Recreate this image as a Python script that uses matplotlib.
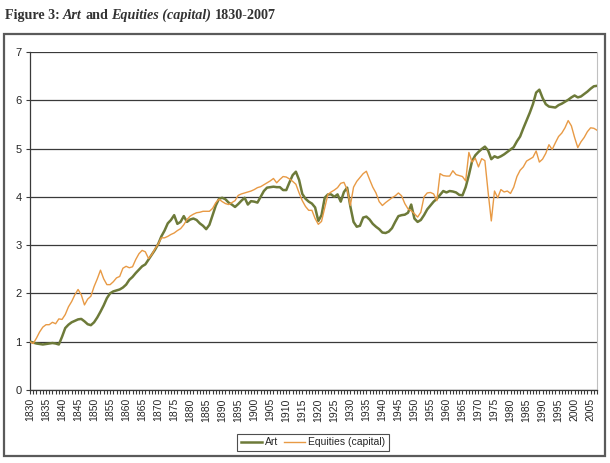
import matplotlib

matplotlib.use("Agg")
import matplotlib.pyplot as plt
import numpy as np
from matplotlib.patches import Rectangle
from matplotlib.ticker import FixedLocator, MultipleLocator

# Indexed values, 1830 = 1
years = list(range(1830, 2008))

art = [
    1.00, 0.98, 0.96, 0.95, 0.94, 0.95, 0.96, 0.97, 0.96, 0.94,  # 1830s
    1.10, 1.28, 1.35, 1.40, 1.43, 1.46, 1.47, 1.42, 1.36, 1.34,  # 1840s
    1.40, 1.50, 1.62, 1.75, 1.90, 2.00, 2.04, 2.06, 2.08, 2.12,  # 1850s
    2.18, 2.28, 2.34, 2.42, 2.49, 2.56, 2.60, 2.70, 2.80, 2.90,  # 1860s
    3.02, 3.18, 3.30, 3.45, 3.52, 3.62, 3.44, 3.48, 3.60, 3.48,  # 1870s
    3.53, 3.55, 3.52, 3.45, 3.40, 3.33, 3.42, 3.62, 3.82, 3.96,  # 1880s
    3.98, 3.95, 3.88, 3.84, 3.79, 3.85, 3.92, 3.98, 3.84, 3.91,  # 1890s
    3.90, 3.88, 4.00, 4.12, 4.19, 4.20, 4.21, 4.20, 4.20, 4.14,  # 1900s
    4.14, 4.30, 4.45, 4.52, 4.35, 4.06, 3.96, 3.90, 3.86, 3.78,  # 1910s
    3.50, 3.62, 3.98, 4.05, 4.05, 4.00, 4.05, 3.90, 4.10, 4.19,  # 1920s
    3.80, 3.48, 3.38, 3.40, 3.57, 3.59, 3.53, 3.44, 3.38, 3.33,  # 1930s
    3.26, 3.25, 3.28, 3.35, 3.48, 3.60, 3.62, 3.63, 3.67, 3.84,  # 1940s
    3.55, 3.48, 3.52, 3.62, 3.74, 3.82, 3.90, 3.96, 4.04, 4.12,  # 1950s
    4.09, 4.12, 4.11, 4.09, 4.04, 4.03, 4.20, 4.45, 4.74, 4.86,  # 1960s
    4.93, 4.99, 5.04, 4.96, 4.78, 4.84, 4.81, 4.84, 4.88, 4.93,  # 1970s
    4.98, 5.03, 5.15, 5.25, 5.42, 5.58, 5.74, 5.92, 6.16, 6.22,  # 1980s
    6.05, 5.92, 5.87, 5.86, 5.85, 5.90, 5.93, 5.97, 6.01, 6.06,  # 1990s
    6.10, 6.06, 6.08, 6.13, 6.18, 6.24, 6.29, 6.30,              # 2000-2007
]

equities = [
    1.00, 0.96, 1.07, 1.20, 1.30, 1.35, 1.35, 1.40, 1.37, 1.47,  # 1830s
    1.46, 1.56, 1.72, 1.83, 1.97, 2.08, 1.97, 1.76, 1.88, 1.94,  # 1840s
    2.14, 2.30, 2.48, 2.30, 2.18, 2.18, 2.24, 2.32, 2.35, 2.52,  # 1850s
    2.56, 2.53, 2.55, 2.70, 2.82, 2.89, 2.86, 2.72, 2.80, 2.92,  # 1860s
    3.02, 3.15, 3.15, 3.18, 3.22, 3.25, 3.30, 3.34, 3.42, 3.53,  # 1870s
    3.60, 3.64, 3.67, 3.68, 3.70, 3.70, 3.70, 3.76, 3.88, 3.95,  # 1880s
    3.90, 3.86, 3.84, 3.88, 3.92, 4.03, 4.06, 4.08, 4.10, 4.12,  # 1890s
    4.15, 4.19, 4.21, 4.25, 4.29, 4.33, 4.38, 4.29, 4.36, 4.42,  # 1900s
    4.41, 4.37, 4.32, 4.26, 4.08, 3.92, 3.80, 3.72, 3.72, 3.55,  # 1910s
    3.43, 3.49, 3.77, 4.05, 4.10, 4.14, 4.19, 4.28, 4.30, 4.15,  # 1920s
    3.82, 4.20, 4.32, 4.40, 4.48, 4.53, 4.36, 4.20, 4.08, 3.90,  # 1930s
    3.82, 3.88, 3.93, 3.98, 4.02, 4.08, 4.02, 3.86, 3.75, 3.71,  # 1940s
    3.65, 3.58, 3.68, 4.00, 4.08, 4.09, 4.06, 3.92, 4.48, 4.44,  # 1950s
    4.43, 4.43, 4.54, 4.46, 4.44, 4.42, 4.33, 4.92, 4.72, 4.80,  # 1960s
    4.62, 4.79, 4.75, 4.10, 3.50, 4.12, 3.98, 4.15, 4.10, 4.12,  # 1970s
    4.07, 4.20, 4.42, 4.55, 4.62, 4.74, 4.78, 4.82, 4.95, 4.72,  # 1980s
    4.78, 4.90, 5.08, 4.98, 5.12, 5.25, 5.32, 5.43, 5.58, 5.47,  # 1990s
    5.23, 5.02, 5.14, 5.23, 5.35, 5.43, 5.42, 5.38,              # 2000-2007
]

label_years = [y for y in years if y % 5 == 0]

TEXT = "#262626"
GRID = "#3a3a3a"

plt.rcParams["font.family"] = ["Liberation Sans", "DejaVu Sans"]

fig = plt.figure(figsize=(6.1, 4.63), dpi=100)

# outer chart frame
fig.patches.append(
    Rectangle((0.0066, 0.0151), 0.985, 0.911, transform=fig.transFigure,
              fill=False, edgecolor="#5a5a5a", lw=1.6)
)

ax = fig.add_axes([0.0492, 0.158, 0.9295, 0.7296])
pos = np.arange(len(years))
ax.plot(pos, art, color="#6d7a39", lw=1.8, label="Art", zorder=3)
ax.plot(pos, equities, color="#e89a45", lw=1.0, label="Equities (capital)", zorder=4)

ax.set_xlim(0, len(years) - 1)
ax.set_ylim(0, 7)
ax.yaxis.set_major_locator(MultipleLocator(1))
ax.grid(axis="y", color=GRID, lw=0.9)
ax.set_axisbelow(True)

ax.xaxis.set_major_locator(FixedLocator([years.index(y) for y in label_years]))
ax.set_xticklabels([str(y) for y in label_years], rotation=90, fontsize=7.5, color=TEXT)
ax.xaxis.set_minor_locator(MultipleLocator(1))
ax.tick_params(axis="x", which="both", length=3, width=0.8, color=GRID, pad=3)
ax.tick_params(axis="y", length=3, width=0.8, color=GRID, pad=3, labelsize=8, labelcolor=TEXT)

for side in ("left", "bottom"):
    ax.spines[side].set_color(GRID)
    ax.spines[side].set_linewidth(0.9)
ax.spines["top"].set_visible(False)
ax.spines["right"].set_color("#c0c0c0")

leg = fig.legend(loc="center", bbox_to_anchor=(313 / 610, 0.0443), ncol=2,
                 fontsize=7.5, frameon=True, fancybox=False, handlelength=2.0,
                 handletextpad=0.3, columnspacing=0.6, borderpad=0.35)
leg.get_frame().set_edgecolor("#222222")
leg.get_frame().set_linewidth(0.8)
for t in leg.get_texts():
    t.set_color(TEXT)

# title with mixed bold / bold-italic pieces
pieces = [("Figure 3:", "normal"), ("Art", "italic"), ("and", "normal"),
          ("Equities (capital)", "italic"), ("1830-2007", "normal")]
renderer = fig.canvas.get_renderer()
x = 5
for text, style in pieces:
    t = fig.text(x / 610, 1 - 19 / 463, text, fontsize=10.2, fontweight="bold",
                 fontstyle=style, family="Liberation Serif", color="#333333",
                 ha="left", va="baseline")
    x += t.get_window_extent(renderer).width + 3.4

fig.savefig("out.png", dpi=100)
